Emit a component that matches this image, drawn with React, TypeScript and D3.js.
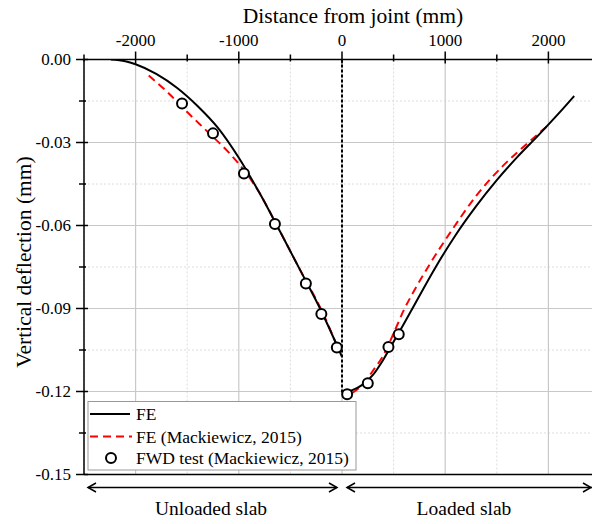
import React from "react";
import * as d3 from "d3";

const feLeftX = [-2240, -2100, -2000, -1800, -1600, -1400, -1200, -1000, -800, -600, -400, -200, 0];
const feLeftY = [0, -0.0006, -0.0017, -0.0052, -0.0102, -0.0168, -0.0248, -0.0355, -0.0482, -0.0622, -0.0765, -0.091, -0.1075];
const feRightX = [0, 100, 200, 300, 400, 500, 600, 700, 900, 1100, 1300, 1500, 1700, 1900, 2100, 2250];
const feRightY = [-0.1205, -0.1195, -0.1175, -0.114, -0.1085, -0.102, -0.0955, -0.0888, -0.0755, -0.0635, -0.053, -0.0436, -0.0352, -0.0275, -0.0195, -0.0132];
const macLeftX = [-1873, -1700, -1500, -1300, -1100, -950, -800, -600, -400, -200, -20];
const macLeftY = [-0.0058, -0.0115, -0.019, -0.0262, -0.0335, -0.04, -0.0482, -0.0622, -0.0765, -0.0905, -0.106];
const macRightX = [100, 200, 300, 400, 500, 600, 700, 850, 1050, 1300, 1550, 1800, 2000];
const macRightY = [-0.1205, -0.1175, -0.1125, -0.107, -0.099, -0.0905, -0.0835, -0.074, -0.0625, -0.0493, -0.0388, -0.0302, -0.0237];
const fwdX = [-1550, -1250, -950, -650, -350, -200, -50, 50, 250, 450, 550];
const fwdY = [-0.0159, -0.0267, -0.0412, -0.0595, -0.081, -0.092, -0.1041, -0.121, -0.117, -0.1039, -0.0993];

const xMajor = [-2000, -1000, 0, 1000, 2000];
const xMinor = [-2500, -1500, -500, 500, 1500, 2500];
const yMajor = [0, -0.03, -0.06, -0.09, -0.12, -0.15];
const yMinor = [-0.015, -0.045, -0.075, -0.105, -0.135];

const legendLabels = ["FE", "FE (Mackiewicz, 2015)", "FWD test (Mackiewicz, 2015)"];

const FONT = '"Liberation Serif", "Times New Roman", "DejaVu Serif", serif';

export default function App() {
  const x = d3.scaleLinear().domain([-2500, 2500]).range([84, 600]);
  const y = d3.scaleLinear().domain([0, -0.15]).range([59.5, 474.5]);
  const line = d3
    .line<[number, number]>()
    .x((d) => x(d[0]))
    .y((d) => y(d[1]))
    .curve(d3.curveMonotoneX);
  const zip = (a: number[], b: number[]) => a.map((v, i) => [v, b[i]] as [number, number]);

  const left = x(-2500);
  const right = x(2500);
  const top = y(0);
  const bottom = y(-0.15);
  const gridColor = "#c8c8c8";

  const legY = [414, 436.5, 458];

  return (
    <svg width={592} height={524} style={{ position: "absolute", left: 0, top: 0, background: "#fff", fontFamily: FONT }}>
      <defs>
        <clipPath id="plot">
          <rect x={left} y={top} width={right - left} height={bottom - top} />
        </clipPath>
      </defs>
      {xMinor.map((v) => (
        <line key={"xm" + v} x1={x(v)} x2={x(v)} y1={top} y2={bottom} stroke="#dcdcdc" strokeDasharray="2,2" />
      ))}
      {yMinor.map((v) => (
        <line key={"ym" + v} x1={left} x2={right} y1={y(v)} y2={y(v)} stroke="#dcdcdc" strokeDasharray="2,2" />
      ))}
      {xMajor.map((v) => (
        <line key={"xg" + v} x1={x(v)} x2={x(v)} y1={top} y2={bottom} stroke={gridColor} strokeWidth={1.2} />
      ))}
      {yMajor.map((v) => (
        <line key={"yg" + v} x1={left} x2={right} y1={y(v)} y2={y(v)} stroke={gridColor} strokeWidth={1.2} />
      ))}

      <line x1={x(0)} x2={x(0)} y1={top} y2={y(-0.1205)} stroke="#000" strokeWidth={2} strokeDasharray="3,2" />

      <g clipPath="url(#plot)">
        <path d={line(zip(macLeftX, macLeftY)) || ""} fill="none" stroke="#ff0000" strokeWidth={2} strokeDasharray="8,5" />
        <path d={line(zip(macRightX, macRightY)) || ""} fill="none" stroke="#ff0000" strokeWidth={2} strokeDasharray="8,5" />
        <path d={line(zip(feLeftX, feLeftY)) || ""} fill="none" stroke="#000" strokeWidth={2} />
        <path d={line(zip(feRightX, feRightY)) || ""} fill="none" stroke="#000" strokeWidth={2} />
        {fwdX.map((v, i) => (
          <circle key={"c" + i} cx={x(v)} cy={y(fwdY[i])} r={5} fill="#fff" stroke="#000" strokeWidth={2} />
        ))}
      </g>

      <line x1={left} x2={right} y1={top} y2={top} stroke="#000" strokeWidth={1.5} />
      <line x1={left} x2={right} y1={bottom} y2={bottom} stroke="#000" strokeWidth={1.5} />
      <line x1={left} x2={left} y1={top} y2={bottom} stroke="#000" strokeWidth={1.5} />

      {xMajor.map((v) => (
        <g key={"xt" + v}>
          <line x1={x(v)} x2={x(v)} y1={top - 8} y2={top + 4} stroke="#000" strokeWidth={1.5} />
          <text x={x(v)} y={top - 14} textAnchor="middle" fontSize={17}>
            {String(v)}
          </text>
        </g>
      ))}
      {xMinor.map((v) => (
        <line key={"xmt" + v} x1={x(v)} x2={x(v)} y1={top - 5} y2={top + 2} stroke="#000" strokeWidth={1.5} />
      ))}

      {yMajor.map((v) => (
        <g key={"yt" + v}>
          <line x1={left - 8} x2={left + 4} y1={y(v)} y2={y(v)} stroke="#000" strokeWidth={1.5} />
          <text x={left - 13} y={y(v)} dy="0.35em" textAnchor="end" fontSize={17}>
            {v.toFixed(2)}
          </text>
        </g>
      ))}
      {yMinor.map((v) => (
        <line key={"ymt" + v} x1={left - 5} x2={left + 2} y1={y(v)} y2={y(v)} stroke="#000" strokeWidth={1.5} />
      ))}

      <text x={353} y={23} textAnchor="middle" fontSize={21.5}>
        Distance from joint (mm)
      </text>
      <text transform={`translate(31, 262) rotate(-90)`} textAnchor="middle" fontSize={21.5}>
        Vertical deflection (mm)
      </text>

      <rect x={88} y={401.5} width={268} height={68.5} fill="#fff" stroke="#999" strokeWidth={1} />
      <line x1={90} x2={130} y1={legY[0]} y2={legY[0]} stroke="#000" strokeWidth={2} />
      <line x1={90} x2={132} y1={legY[1]} y2={legY[1]} stroke="#ff0000" strokeWidth={2} strokeDasharray="8,5" />
      <circle cx={111} cy={legY[2]} r={5} fill="#fff" stroke="#000" strokeWidth={2} />
      {legendLabels.map((t, i) => (
        <text key={t} x={136} y={legY[i]} dy="0.35em" fontSize={17.5}>
          {t}
        </text>
      ))}

      <g stroke="#000" strokeWidth={1.5} fill="none">
        <line x1={88} x2={337} y1={487.5} y2={487.5} />
        <polyline points="96,483 88,487.5 96,492" />
        <polyline points="329,483 337,487.5 329,492" />
        <line x1={347} x2={600} y1={487.5} y2={487.5} />
        <polyline points="355,483 347,487.5 355,492" />
        <polyline points="583,483 591,487.5 583,492" />
      </g>
      <text x={211} y={515} textAnchor="middle" fontSize={19.5}>
        Unloaded slab
      </text>
      <text x={464} y={515} textAnchor="middle" fontSize={19.5}>
        Loaded slab
      </text>
    </svg>
  );
}
